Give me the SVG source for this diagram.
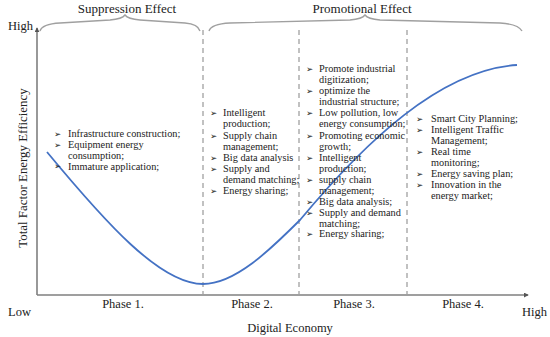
<svg xmlns="http://www.w3.org/2000/svg" width="550" height="337" viewBox="0 0 550 337">
<defs>
<style>
.t{font-family:"Liberation Serif","Times New Roman",serif;fill:#222;}
.lbl{font-size:12.5px;}
.it{font-size:10.3px;}
.b{font-family:"DejaVu Sans",sans-serif;font-size:8.5px;fill:#222;}
.brace{fill:none;stroke:#a0a0a0;stroke-width:1.4;}
.dash{stroke:#a0a0a0;stroke-width:1.3;stroke-dasharray:5,4;}
.axis{stroke:#7f7f7f;stroke-width:1.6;fill:none;}
.curve{fill:none;stroke:#4472c4;stroke-width:1.8;}
</style>
<marker id="ah" viewBox="0 0 6 6" refX="5" refY="3" markerWidth="5" markerHeight="5" orient="auto" markerUnits="userSpaceOnUse">
<path d="M0,0 L6,3 L0,6 z" fill="#555"/>
</marker>
</defs>
<rect width="550" height="337" fill="#fff"/>

<g id="connectors">
<line class="axis" x1="37" y1="295" x2="37" y2="28" marker-end="url(#ah)"/>
<line class="axis" x1="37" y1="295" x2="528" y2="295" marker-end="url(#ah)"/>
<line class="dash" x1="203" y1="30" x2="203" y2="295"/>
<line class="dash" x1="299" y1="30" x2="299" y2="295"/>
<line class="dash" x1="407" y1="30" x2="407" y2="295"/>
<path class="brace" d="M40,31 Q42,24 60,23 L110,20 Q122,19 125,15 Q128,19 140,20 L185,23 Q198,24 200,31"/>
<path class="brace" d="M209,31 Q211,24 230,23 L350,20 Q362,19 365,15 Q368,19 380,20 L500,23 Q518,24 522,31"/>
<path class="curve" d="M47,152 C105,222 160,284 203,284 C235,284 270,250 300,220 C365,142 440,70 517,65"/>
</g>

<g id="axis-labels">
<text class="t lbl" x="8" y="30">High</text>
<text class="t lbl" x="8" y="316">Low</text>
<text class="t lbl" x="522" y="316">High</text>
<text class="t lbl" x="290" y="332" text-anchor="middle">Digital Economy</text>
<text class="t" x="27" y="168" text-anchor="middle" font-size="12.9" transform="rotate(-90 27 168)">Total Factor Energy Efficiency</text>
<text class="t" x="127" y="13" text-anchor="middle" font-size="13">Suppression Effect</text>
<text class="t" x="362" y="13" text-anchor="middle" font-size="13">Promotional Effect</text>
</g>

<g id="phase1">
<text class="t lbl" x="123" y="308" text-anchor="middle" font-size="12">Phase 1.</text>
<text class="b" x="54" y="136.5">➢</text>
<text class="t it" x="68" y="137">Infrastructure construction;</text>
<text class="b" x="54" y="147.5">➢</text>
<text class="t it" x="68" y="148">Equipment energy</text>
<text class="t it" x="68" y="158.5">consumption;</text>
<text class="b" x="54" y="169">➢</text>
<text class="t it" x="68" y="169.5">Immature application;</text>
</g>

<g id="phase2">
<text class="t lbl" x="252" y="308" text-anchor="middle">Phase 2.</text>
<text class="b" x="210" y="115.5">➢</text>
<text class="t it" x="223" y="116">Intelligent</text>
<text class="t it" x="223" y="127">production;</text>
<text class="b" x="210" y="138.5">➢</text>
<text class="t it" x="223" y="139">Supply chain</text>
<text class="t it" x="223" y="150">management;</text>
<text class="b" x="210" y="160.5">➢</text>
<text class="t it" x="223" y="161">Big data analysis</text>
<text class="b" x="210" y="171.5">➢</text>
<text class="t it" x="223" y="172">Supply and</text>
<text class="t it" x="223" y="183">demand matching;</text>
<text class="b" x="210" y="193.5">➢</text>
<text class="t it" x="223" y="194">Energy sharing;</text>
</g>

<g id="phase3">
<text class="t lbl" x="354" y="308" text-anchor="middle">Phase 3.</text>
<text class="b" x="306" y="71.5">➢</text>
<text class="t it" x="319" y="72">Promote industrial</text>
<text class="t it" x="319" y="83">digitization;</text>
<text class="b" x="306" y="93.5">➢</text>
<text class="t it" x="319" y="94">optimize the</text>
<text class="t it" x="319" y="105">industrial structure;</text>
<text class="b" x="306" y="115.5">➢</text>
<text class="t it" x="319" y="116">Low pollution, low</text>
<text class="t it" x="319" y="127">energy consumption;</text>
<text class="b" x="306" y="138.5">➢</text>
<text class="t it" x="319" y="139">Promoting economic</text>
<text class="t it" x="319" y="150">growth;</text>
<text class="b" x="306" y="160.5">➢</text>
<text class="t it" x="319" y="161">Intelligent</text>
<text class="t it" x="319" y="171.5">production;</text>
<text class="b" x="306" y="182.5">➢</text>
<text class="t it" x="319" y="183">supply chain</text>
<text class="t it" x="319" y="194">management;</text>
<text class="b" x="306" y="204.5">➢</text>
<text class="t it" x="319" y="205">Big data analysis;</text>
<text class="b" x="306" y="215.5">➢</text>
<text class="t it" x="319" y="216">Supply and demand</text>
<text class="t it" x="319" y="226.5">matching;</text>
<text class="b" x="306" y="236.5">➢</text>
<text class="t it" x="319" y="237">Energy sharing;</text>
</g>

<g id="phase4">
<text class="t lbl" x="463" y="308" text-anchor="middle">Phase 4.</text>
<text class="b" x="416" y="121.5">➢</text>
<text class="t it" x="431" y="122">Smart City Planning;</text>
<text class="b" x="416" y="132.5">➢</text>
<text class="t it" x="431" y="133">Intelligent Traffic</text>
<text class="t it" x="431" y="144">Management;</text>
<text class="b" x="416" y="154.5">➢</text>
<text class="t it" x="431" y="155">Real time</text>
<text class="t it" x="431" y="166">monitoring;</text>
<text class="b" x="416" y="176.5">➢</text>
<text class="t it" x="431" y="177">Energy saving plan;</text>
<text class="b" x="416" y="187.5">➢</text>
<text class="t it" x="431" y="188">Innovation in the</text>
<text class="t it" x="431" y="199">energy market;</text>
</g>
</svg>
